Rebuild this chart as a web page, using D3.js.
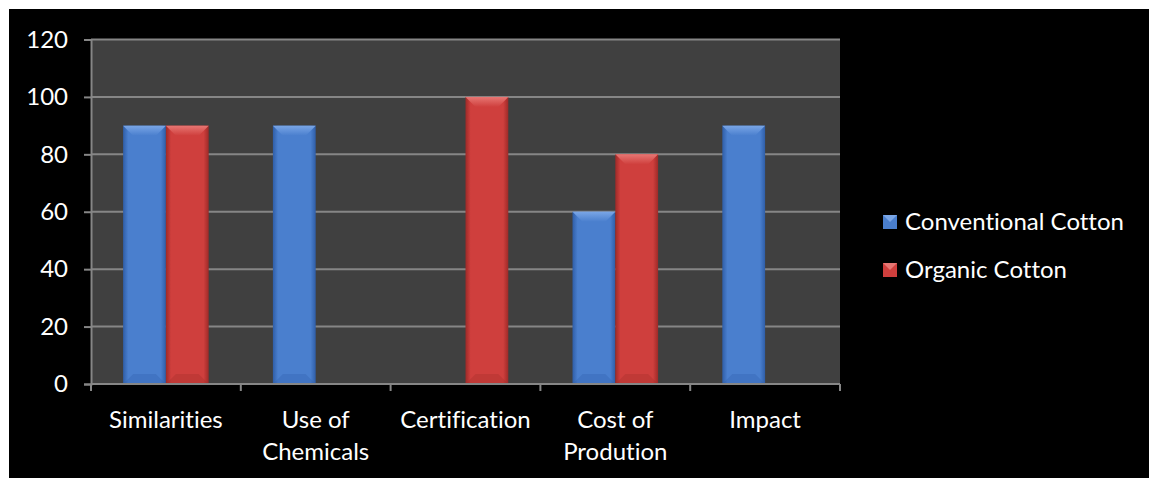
<!DOCTYPE html>
<html>
<head>
<meta charset="utf-8">
<script src="https://cdn.jsdelivr.net/npm/d3@7"></script>
<style>
  html, body { margin: 0; padding: 0; background: #ffffff; }
  svg { display: block; }
  text { font-variant-ligatures: none; font-feature-settings: "liga" 0, "clig" 0; }
</style>
</head>
<body>
<svg id="chart" width="1149" height="478"></svg>
<script>
// Cotton comparison data
const categories = [["Similarities"], ["Use of", "Chemicals"], ["Certification"], ["Cost of", "Prodution"], ["Impact"]];
const seriesNames = ["Conventional Cotton", "Organic Cotton"];
const conventional = [90, 90, null, 60, 90];
const organic = [90, null, 100, 80, null];
const yTicks = [0, 20, 40, 60, 80, 100, 120];

const W = 1149, H = 478;
const plot = { left: 91, right: 840, top: 39.5, bottom: 384 };
const FONT = "Lato, 'Open Sans', sans-serif";
const FS = 24;

const svg = d3.select("#chart");

// Outer chart area (black panel)
svg.append("rect").attr("x", 9).attr("y", 9).attr("width", W - 9).attr("height", H - 9).attr("fill", "#000");

const defs = svg.append("defs");
const palette = [
  { base: "#4a7fce", light: "#7aa6e6", dark: "#2f5ea8", id: "blue" },
  { base: "#cf3f3d", light: "#e77673", dark: "#9e2a28", id: "red" }
];
palette.forEach(p => {
  const g = defs.append("linearGradient").attr("id", "grad-" + p.id).attr("x1", 0).attr("x2", 1).attr("y1", 0).attr("y2", 0);
  g.append("stop").attr("offset", "0%").attr("stop-color", p.dark);
  g.append("stop").attr("offset", "12%").attr("stop-color", p.base);
  g.append("stop").attr("offset", "88%").attr("stop-color", p.base);
  g.append("stop").attr("offset", "100%").attr("stop-color", p.dark);
  const t = defs.append("linearGradient").attr("id", "top-" + p.id).attr("x1", 0).attr("x2", 0).attr("y1", 0).attr("y2", 1);
  t.append("stop").attr("offset", "0%").attr("stop-color", p.light);
  t.append("stop").attr("offset", "100%").attr("stop-color", p.base);
});

const x0 = d3.scaleBand().domain(d3.range(categories.length)).range([plot.left, plot.right]);
const barW = x0.bandwidth() / 3.5;
const x1 = d3.scaleBand().domain([0, 1]).range([x0.bandwidth() / 2 - barW, x0.bandwidth() / 2 + barW]);
const y = d3.scaleLinear().domain([0, 120]).range([plot.bottom, plot.top]);

// Plot background
svg.append("rect").attr("x", plot.left).attr("y", plot.top)
  .attr("width", plot.right - plot.left).attr("height", plot.bottom - plot.top).attr("fill", "#404040");

// Gridlines
svg.append("g").selectAll("line").data(yTicks.filter(t => t > 0)).join("line")
  .attr("x1", plot.left).attr("x2", plot.right)
  .attr("y1", d => y(d)).attr("y2", d => y(d))
  .attr("stroke", "#868686").attr("stroke-width", 2);

// Bars with bevelled tops
const seriesData = [conventional, organic];
seriesData.forEach((vals, si) => {
  const p = palette[si];
  const g = svg.append("g");
  vals.forEach((v, ci) => {
    if (v == null) return;
    const bx = x0(ci) + x1(si);
    const by = y(v);
    const bh = y(0) - by;
    const bw = x1.bandwidth();
    const bev = 10;
    g.append("rect").attr("x", bx).attr("y", by).attr("width", bw).attr("height", bh)
      .attr("fill", `url(#grad-${p.id})`);
    g.append("path")
      .attr("d", `M${bx},${by} L${bx + bw},${by} L${bx + bw - bev},${by + bev} L${bx + bev},${by + bev} Z`)
      .attr("fill", `url(#top-${p.id})`);
    g.append("path")
      .attr("d", `M${bx},${y(0)} L${bx + bw},${y(0)} L${bx + bw - bev},${y(0) - bev} L${bx + bev},${y(0) - bev} Z`)
      .attr("fill", p.dark).attr("opacity", 0.3);
  });
});

// Y axis
const yAxis = svg.append("g").attr("transform", `translate(${plot.left},0)`)
  .call(d3.axisLeft(y).tickValues(yTicks).tickSize(7).tickPadding(16));
yAxis.select(".domain").attr("stroke", "#868686").attr("stroke-width", 2);
yAxis.selectAll(".tick line").attr("stroke", "#868686").attr("stroke-width", 2);
yAxis.selectAll(".tick text").attr("fill", "#fff").attr("font-family", FONT).attr("font-size", FS);

// X axis
const xAxis = svg.append("g").attr("transform", `translate(0,${plot.bottom})`);
xAxis.append("line").attr("x1", plot.left).attr("x2", plot.right).attr("y1", 0).attr("y2", 0)
  .attr("stroke", "#868686").attr("stroke-width", 2);
xAxis.selectAll("line.tick").data(d3.range(categories.length + 1)).join("line").attr("class", "tick")
  .attr("x1", i => plot.left + i * x0.step()).attr("x2", i => plot.left + i * x0.step())
  .attr("y1", 0).attr("y2", 7).attr("stroke", "#868686").attr("stroke-width", 2);
const labels = xAxis.selectAll("text").data(categories).join("text")
  .attr("x", (d, i) => x0(i) + x0.bandwidth() / 2)
  .attr("y", 44)
  .attr("text-anchor", "middle").attr("fill", "#fff")
  .attr("font-family", FONT).attr("font-size", FS);
labels.selectAll("tspan").data(d => d).join("tspan")
  .attr("x", function () { return this.parentNode.getAttribute("x"); })
  .attr("dy", (d, i) => i === 0 ? 0 : 32)
  .text(d => d);

// Legend
const legend = svg.append("g");
seriesNames.forEach((name, i) => {
  const p = palette[i];
  const ly = 222 + i * 48;
  const s = 14;
  const lx = 883;
  legend.append("rect").attr("x", lx).attr("y", ly - s / 2).attr("width", s).attr("height", s).attr("fill", p.base);
  legend.append("path")
    .attr("d", `M${lx},${ly - s / 2} L${lx + s},${ly - s / 2} L${lx + s / 2},${ly} Z`)
    .attr("fill", p.light);
  legend.append("text").attr("x", 905).attr("y", ly).attr("dy", "0.35em")
    .attr("fill", "#fff").attr("font-family", FONT).attr("font-size", FS).text(name);
});
</script>
</body>
</html>
